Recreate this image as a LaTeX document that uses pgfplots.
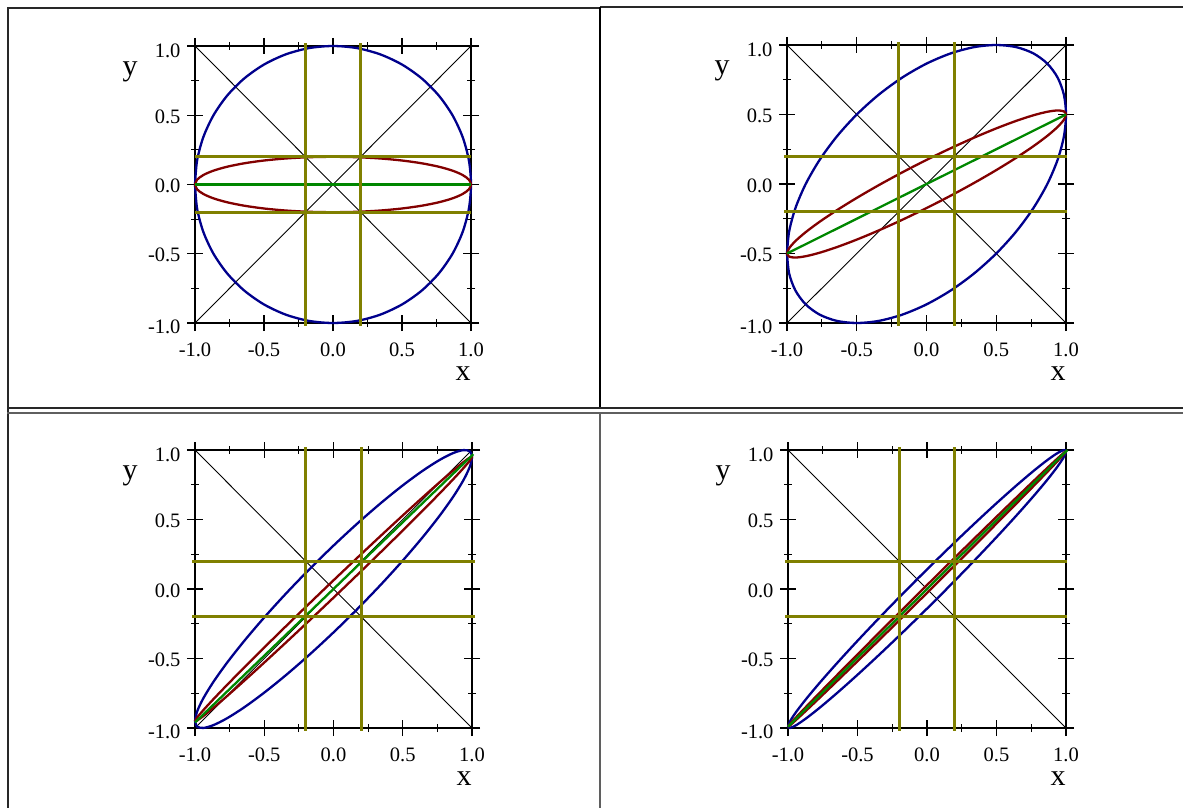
\documentclass[border=0pt]{standalone}
\usepackage{fontspec}
\setmainfont{Liberation Serif}
\usepackage{pgfplots}
\pgfplotsset{compat=1.18}
\definecolor{mblue}{RGB}{0,0,140}
\definecolor{mred}{RGB}{130,0,0}
\definecolor{mgreen}{RGB}{0,135,0}
\definecolor{molive}{RGB}{128,128,0}
\definecolor{bdark}{RGB}{40,40,40}
\definecolor{bgray}{RGB}{95,95,95}
\newcommand{\yl}[2]{\smash{\raisebox{#1}{#2}}}
\pgfplotsset{panel/.style={
  scale only axis,
  xmin=-1,xmax=1,ymin=-1,ymax=1,
  clip=false,
  xtick={-1,-0.5,0,0.5,1}, ytick={-1,-0.5,0,0.5,1},
  xticklabels={-1.0,-0.5,0.0,0.5,1.0},
  yticklabels={\yl{-10pt}{-1.0},\yl{-8pt}{-0.5},\yl{-8pt}{0.0},\yl{-8pt}{0.5},\yl{-11.5pt}{1.0}},
  minor xtick={-0.75,-0.25,0.25,0.75}, minor ytick={-0.75,-0.25,0.25,0.75},
  tick align=center, major tick length=16pt, minor tick length=8pt,
  axis line style={line width=1.3pt, black},
  every tick/.append style={black, line width=1.2pt},
  tick label style={font=\fontsize{20.5}{24}\selectfont},
  xticklabel style={yshift=-8pt},
  yticklabel style={xshift=-3pt},
  xlabel={x}, ylabel={y},
  every axis x label/.style={at={(axis description cs:1,0)}, anchor=base, xshift=-8pt, yshift=-57pt, font=\fontsize{30}{36}\selectfont},
  every axis y label/.style={at={(axis description cs:0,1)}, anchor=base, xshift=-65pt, yshift=-29pt, font=\fontsize{30}{36}\selectfont},
  diag/.style={black, line width=0.9pt},
  ell/.style={line width=2.3pt, smooth, line join=round},
  gline/.style={mgreen, line width=2.3pt},
  oline/.style={molive, line width=2.7pt},
}}
\begin{document}
\begin{tikzpicture}[x=1pt,y=1pt]
\useasboundingbox (0,0) rectangle (1183,-808);
% table borders
\draw[bdark, line width=2pt] (7.5,-8) -- (7.5,-808);
\draw[bdark, line width=1.8pt] (7,-8) -- (600,-8);
\draw[bdark, line width=1.8pt] (600,-7) -- (1183,-7);
\draw[black, line width=2pt] (600.3,-7) -- (600.3,-408);
\draw[bgray, line width=2pt] (600.3,-412) -- (600.3,-808);
\draw[bdark, line width=1.5pt] (7,-408) -- (1183,-408);
\draw[bgray, line width=2pt] (7,-412.5) -- (1183,-412.5);

% ---------------- panel 1 : rho = 0
\begin{axis}[panel, at={(195pt,-323pt)}, anchor=south west, width=276pt, height=277pt]
\addplot[diag] coordinates {(-1,-1) (1,1)};
\addplot[diag] coordinates {(-1,1) (1,-1)};
\addplot[mblue, ell] coordinates {(-1,0) (-0.98481,0.17365) (-0.93969,0.34202) (-0.86603,0.5) (-0.76604,0.64279) (-0.64279,0.76604) (-0.5,0.86603) (-0.34202,0.93969) (-0.17365,0.98481) (0,1) (0.17365,0.98481) (0.34202,0.93969) (0.5,0.86603) (0.64279,0.76604) (0.76604,0.64279) (0.86603,0.5) (0.93969,0.34202) (0.98481,0.17365) (1,0)
 (0.98481,-0.17365) (0.93969,-0.34202) (0.86603,-0.5) (0.76604,-0.64279) (0.64279,-0.76604) (0.5,-0.86603) (0.34202,-0.93969) (0.17365,-0.98481) (0,-1) (-0.17365,-0.98481) (-0.34202,-0.93969) (-0.5,-0.86603) (-0.64279,-0.76604) (-0.76604,-0.64279) (-0.86603,-0.5) (-0.93969,-0.34202) (-0.98481,-0.17365) (-1,0)};
\addplot[mred, ell] coordinates {(-1,0) (-0.98481,0.03473) (-0.93969,0.06840) (-0.86603,0.1) (-0.76604,0.12856) (-0.64279,0.15321) (-0.5,0.17321) (-0.34202,0.18794) (-0.17365,0.19696) (0,0.2) (0.17365,0.19696) (0.34202,0.18794) (0.5,0.17321) (0.64279,0.15321) (0.76604,0.12856) (0.86603,0.1) (0.93969,0.06840) (0.98481,0.03473) (1,0)
 (0.98481,-0.03473) (0.93969,-0.06840) (0.86603,-0.1) (0.76604,-0.12856) (0.64279,-0.15321) (0.5,-0.17321) (0.34202,-0.18794) (0.17365,-0.19696) (0,-0.2) (-0.17365,-0.19696) (-0.34202,-0.18794) (-0.5,-0.17321) (-0.64279,-0.15321) (-0.76604,-0.12856) (-0.86603,-0.1) (-0.93969,-0.06840) (-0.98481,-0.03473) (-1,0)};
\addplot[gline] coordinates {(-1,0) (1,0)};
\addplot[oline] coordinates {(-0.2,-1.02) (-0.2,1.02)};
\addplot[oline] coordinates {(0.2,-1.02) (0.2,1.02)};
\addplot[oline] coordinates {(-1,0.2) (1,0.2)};
\addplot[oline] coordinates {(-1,-0.2) (1,-0.2)};
\end{axis}

% ---------------- panel 2 : rho = 0.5
\begin{axis}[panel, at={(787pt,-323pt)}, anchor=south west, width=279pt, height=278pt]
\addplot[diag] coordinates {(-1,-1) (1,1)};
\addplot[diag] coordinates {(-1,1) (1,-1)};
\addplot[mblue, ell] coordinates {(-1,-0.5) (-0.98481,-0.34201) (-0.93969,-0.17365) (-0.86603,0) (-0.76604,0.17365) (-0.64279,0.34202) (-0.5,0.5) (-0.34202,0.64279) (-0.17365,0.76606) (0,0.86603) (0.17365,0.93970) (0.34202,0.98481) (0.5,1) (0.64279,0.98480) (0.76604,0.93969) (0.86603,0.86602) (0.93969,0.76605) (0.98481,0.64279) (1,0.5)
 (0.98481,0.34201) (0.93969,0.17365) (0.86603,0) (0.76604,-0.17365) (0.64279,-0.34202) (0.5,-0.5) (0.34202,-0.64279) (0.17365,-0.76606) (0,-0.86603) (-0.17365,-0.93970) (-0.34202,-0.98481) (-0.5,-1) (-0.64279,-0.98480) (-0.76604,-0.93969) (-0.86603,-0.86602) (-0.93969,-0.76605) (-0.98481,-0.64279) (-1,-0.5)};
\addplot[mred, ell] coordinates {(-1,-0.5) (-0.98481,-0.46232) (-0.93969,-0.41061) (-0.86603,-0.34641) (-0.76604,-0.27168) (-0.64279,-0.18871) (-0.5,-0.1) (-0.34202,-0.00825) (-0.17365,0.08376) (0,0.17321) (0.17365,0.25740) (0.34202,0.33377) (0.5,0.4) (0.64279,0.45407) (0.76604,0.49436) (0.86603,0.51961) (0.93969,0.52909) (0.98481,0.52248) (1,0.5)
 (0.98481,0.46232) (0.93969,0.41061) (0.86603,0.34641) (0.76604,0.27168) (0.64279,0.18871) (0.5,0.1) (0.34202,0.00825) (0.17365,-0.08376) (0,-0.17321) (-0.17365,-0.25740) (-0.34202,-0.33377) (-0.5,-0.4) (-0.64279,-0.45407) (-0.76604,-0.49436) (-0.86603,-0.51961) (-0.93969,-0.52909) (-0.98481,-0.52248) (-1,-0.5)};
\addplot[gline] coordinates {(-1,-0.5) (1,0.5)};
\addplot[oline] coordinates {(-0.2,-1.02) (-0.2,1.02)};
\addplot[oline] coordinates {(0.2,-1.02) (0.2,1.02)};
\addplot[oline] coordinates {(-1.02,0.2) (1.01,0.2)};
\addplot[oline] coordinates {(-1.02,-0.2) (1.01,-0.2)};
\end{axis}

% ---------------- panel 3 : rho = 0.95
\begin{axis}[panel, at={(195pt,-728pt)}, anchor=south west, width=277pt, height=278pt]
\addplot[diag] coordinates {(-1,-1) (1,1)};
\addplot[diag] coordinates {(-1,1) (1,-1)};
\addplot[mblue, ell] coordinates {(-1,-0.95) (-0.98481,-0.88135) (-0.93969,-0.78591) (-0.86603,-0.66660) (-0.76604,-0.52703) (-0.64279,-0.37145) (-0.5,-0.20458) (-0.34202,-0.03150) (-0.17365,0.14254) (0,0.31225) (0.17365,0.47248) (0.34202,0.61834) (0.5,0.74542) (0.64279,0.84985) (0.76604,0.92845) (0.86603,0.97886) (0.93969,0.99951) (0.98481,0.98979) (1,0.95)
 (0.98481,0.88135) (0.93969,0.78591) (0.86603,0.66660) (0.76604,0.52703) (0.64279,0.37145) (0.5,0.20458) (0.34202,0.03150) (0.17365,-0.14254) (0,-0.31225) (-0.17365,-0.47248) (-0.34202,-0.61834) (-0.5,-0.74542) (-0.64279,-0.84985) (-0.76604,-0.92845) (-0.86603,-0.97886) (-0.93969,-0.99951) (-0.98481,-0.98979) (-1,-0.95)};
\addplot[mred, ell] coordinates {(-1,-0.95) (-0.98481,-0.92473) (-0.93969,-0.87135) (-0.86603,-0.79150) (-0.76604,-0.68760) (-0.64279,-0.56281) (-0.5,-0.42092) (-0.34202,-0.26624) (-0.17365,-0.10347) (0,0.06245) (0.17365,0.22647) (0.34202,0.38360) (0.5,0.52908) (0.64279,0.65849) (0.76604,0.76788) (0.86603,0.85396) (0.93969,0.91407) (0.98481,0.94641) (1,0.95)
 (0.98481,0.92473) (0.93969,0.87135) (0.86603,0.79150) (0.76604,0.68760) (0.64279,0.56281) (0.5,0.42092) (0.34202,0.26624) (0.17365,0.10347) (0,-0.06245) (-0.17365,-0.22647) (-0.34202,-0.38360) (-0.5,-0.52908) (-0.64279,-0.65849) (-0.76604,-0.76788) (-0.86603,-0.85396) (-0.93969,-0.91407) (-0.98481,-0.94641) (-1,-0.95)};
\addplot[gline] coordinates {(-1,-0.96) (1.01,0.97)};
\addplot[oline] coordinates {(-0.2,-1.02) (-0.2,1.02)};
\addplot[oline] coordinates {(0.2,-1.02) (0.2,1.02)};
\addplot[oline] coordinates {(-1.02,0.2) (1.02,0.2)};
\addplot[oline] coordinates {(-1.02,-0.2) (1.02,-0.2)};
\end{axis}

% ---------------- panel 4 : rho = 0.99
\begin{axis}[panel, at={(788pt,-728pt)}, anchor=south west, width=278pt, height=278pt]
\addplot[diag] coordinates {(-1,-1) (1,1)};
\addplot[diag] coordinates {(-1,1) (1,-1)};
\addplot[mblue, ell] coordinates {(-1,-0.99) (-0.98481,-0.95046) (-0.93969,-0.88204) (-0.86603,-0.78683) (-0.76604,-0.66770) (-0.64279,-0.52829) (-0.5,-0.37283) (-0.34202,-0.20604) (-0.17365,-0.03298) (0,0.14107) (0.17365,0.31084) (0.34202,0.47116) (0.5,0.61717) (0.64279,0.74443) (0.76604,0.84906) (0.86603,0.92791) (0.93969,0.97854) (0.98481,0.99946) (1,0.99)
 (0.98481,0.95046) (0.93969,0.88204) (0.86603,0.78683) (0.76604,0.66770) (0.64279,0.52829) (0.5,0.37283) (0.34202,0.20604) (0.17365,0.03298) (0,-0.14107) (-0.17365,-0.31084) (-0.34202,-0.47116) (-0.5,-0.61717) (-0.64279,-0.74443) (-0.76604,-0.84906) (-0.86603,-0.92791) (-0.93969,-0.97854) (-0.98481,-0.99946) (-1,-0.99)};
\addplot[mred, ell] coordinates {(-1,-0.99) (-0.98481,-0.97006) (-0.93969,-0.92064) (-0.86603,-0.84326) (-0.76604,-0.74024) (-0.64279,-0.61475) (-0.5,-0.47057) (-0.34202,-0.31209) (-0.17365,-0.14412) (0,0.02821) (0.17365,0.19970) (0.34202,0.36511) (0.5,0.51943) (0.64279,0.65797) (0.76604,0.77652) (0.86603,0.87148) (0.93969,0.93994) (0.98481,0.97986) (1,0.99)
 (0.98481,0.97006) (0.93969,0.92064) (0.86603,0.84326) (0.76604,0.74024) (0.64279,0.61475) (0.5,0.47057) (0.34202,0.31209) (0.17365,0.14412) (0,-0.02821) (-0.17365,-0.19970) (-0.34202,-0.36511) (-0.5,-0.51943) (-0.64279,-0.65797) (-0.76604,-0.77652) (-0.86603,-0.87148) (-0.93969,-0.93994) (-0.98481,-0.97986) (-1,-0.99)};
\addplot[gline] coordinates {(-1,-0.99) (1.01,1.0)};
\addplot[oline] coordinates {(-0.2,-1.02) (-0.2,1.02)};
\addplot[oline] coordinates {(0.2,-1.02) (0.2,1.02)};
\addplot[oline] coordinates {(-1.02,0.2) (1.01,0.2)};
\addplot[oline] coordinates {(-1.02,-0.2) (1.01,-0.2)};
\end{axis}
\end{tikzpicture}
\end{document}
